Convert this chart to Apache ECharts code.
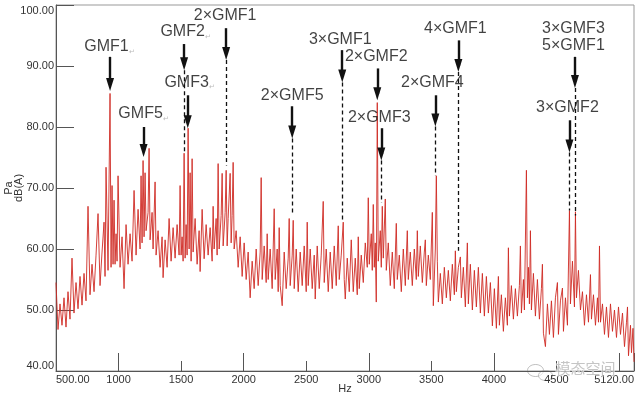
<!DOCTYPE html>
<html>
<head>
<meta charset="utf-8">
<script src="https://cdn.jsdelivr.net/npm/echarts@6/dist/echarts.min.js"></script>
<style>
  html, body { margin: 0; padding: 0; background: #fff; }
  #chart { width: 640px; height: 398px; }
</style>
</head>
<body>
<div id="chart"></div>
<script>
// 频谱 [Hz, dB(A)]
var spectrum = [
  [500,54.5],[516,46.8],[532,51.0],[548,47.5],[564,52.0],[580,47.2],[596,53.0],[612,48.5],[628,58.5],[644,49.5],
  [660,54.5],[676,50.2],[692,55.5],[708,50.8],[724,56.0],[740,51.5],[756,67.0],[772,52.5],[788,57.5],[804,53.0],
  [820,59.0],[836,65.8],[852,54.0],[868,59.5],[884,64.4],[892,55.5],[900,73.4],[916,56.5],[932,85.5],[940,57.0],
  [948,70.4],[956,57.5],[964,68.0],[972,57.5],[980,62.5],[988,58.0],[996,72.0],[1012,57.0],[1028,62.0],[1044,53.5],
  [1060,64.0],[1076,57.5],[1092,62.5],[1108,58.0],[1124,69.6],[1140,59.0],[1156,66.5],[1172,60.0],[1180,72.0],[1188,61.0],
  [1196,74.5],[1204,62.0],[1212,72.5],[1220,63.0],[1236,66.0],[1244,76.5],[1252,61.5],[1268,66.0],[1276,60.0],[1292,71.0],
  [1300,59.0],[1316,63.0],[1332,57.0],[1348,62.0],[1356,55.3],[1372,61.5],[1388,57.0],[1404,65.0],[1420,58.0],[1436,63.5],
  [1452,58.5],[1468,64.0],[1484,59.0],[1492,70.4],[1500,59.0],[1508,62.0],[1516,58.0],[1524,75.7],[1532,58.5],[1540,64.0],
  [1548,59.0],[1556,79.8],[1564,60.0],[1572,72.5],[1580,58.0],[1588,74.8],[1596,59.5],[1612,65.0],[1628,57.5],[1644,63.0],
  [1652,56.3],[1668,66.5],[1684,58.4],[1700,64.0],[1716,59.0],[1732,63.5],[1748,58.0],[1756,67.0],[1764,60.0],[1780,65.0],
  [1788,59.0],[1796,74.0],[1804,60.0],[1820,65.5],[1828,72.4],[1836,60.5],[1852,66.0],[1860,72.9],[1868,60.5],[1876,65.0],
  [1892,72.4],[1900,61.0],[1908,65.5],[1916,74.2],[1924,60.0],[1940,63.0],[1956,57.0],[1972,62.0],[1988,55.5],[2004,61.0],
  [2020,55.0],[2036,59.5],[2052,52.0],[2068,58.0],[2084,53.5],[2100,60.0],[2116,54.0],[2132,59.5],[2140,71.7],[2148,55.0],
  [2164,60.5],[2180,54.5],[2188,62.5],[2196,55.0],[2212,60.0],[2228,53.5],[2244,66.6],[2252,55.0],[2268,60.0],[2276,53.0],
  [2284,63.5],[2292,54.0],[2308,50.7],[2324,59.5],[2340,53.5],[2356,58.5],[2364,65.0],[2372,54.0],[2388,59.0],[2396,64.7],
  [2404,53.5],[2420,60.0],[2436,53.0],[2452,59.5],[2468,54.0],[2484,60.5],[2500,53.0],[2508,64.4],[2516,54.0],[2532,60.0],
  [2548,53.5],[2564,59.0],[2572,51.8],[2588,60.5],[2604,53.5],[2620,59.0],[2636,67.8],[2644,54.5],[2660,60.0],[2676,53.0],
  [2692,59.5],[2708,53.5],[2724,60.5],[2740,54.0],[2756,63.8],[2764,55.0],[2780,59.0],[2796,64.4],[2804,55.0],[2812,51.8],
  [2828,58.5],[2844,53.0],[2860,61.5],[2876,53.0],[2892,58.5],[2908,52.5],[2916,62.0],[2924,53.5],[2940,59.0],[2956,54.5],
  [2972,61.0],[2988,57.0],[2996,68.4],[3004,57.5],[3020,62.5],[3028,56.5],[3036,67.3],[3044,57.0],[3052,61.0],[3060,51.3],
  [3068,84.0],[3076,58.0],[3092,63.0],[3100,57.0],[3108,67.0],[3116,58.5],[3132,68.2],[3140,56.5],[3156,61.0],[3172,54.0],
  [3188,59.5],[3204,53.5],[3220,64.2],[3228,55.0],[3244,59.0],[3260,53.0],[3276,60.0],[3292,54.0],[3308,63.0],[3316,55.0],
  [3332,59.5],[3348,54.0],[3364,60.0],[3380,55.0],[3388,63.0],[3396,55.5],[3412,60.5],[3428,54.5],[3444,59.5],[3452,61.5],
  [3460,54.0],[3476,59.0],[3492,55.0],[3508,66.0],[3516,50.7],[3532,60.0],[3540,72.0],[3548,58.0],[3556,51.3],[3572,56.0],
  [3588,51.0],[3604,57.0],[3620,52.0],[3636,56.5],[3652,51.5],[3668,57.5],[3684,52.5],[3692,59.7],[3700,53.0],[3716,57.0],
  [3732,58.7],[3740,52.0],[3756,57.0],[3772,50.5],[3788,61.0],[3796,51.0],[3812,57.5],[3828,50.0],[3844,56.5],[3860,50.5],
  [3876,57.0],[3892,49.5],[3908,56.0],[3924,49.0],[3940,55.5],[3956,49.5],[3972,54.5],[3988,47.4],[4004,53.5],[4020,47.0],
  [4036,55.5],[4044,47.5],[4060,52.5],[4076,46.5],[4092,52.0],[4108,47.5],[4116,60.2],[4124,49.0],[4140,54.0],[4156,48.5],
  [4172,53.5],[4188,49.0],[4204,54.0],[4212,60.5],[4220,49.5],[4236,55.0],[4244,50.0],[4260,72.9],[4268,52.0],[4276,57.0],
  [4284,51.0],[4292,63.0],[4300,50.0],[4316,56.0],[4332,49.0],[4348,55.0],[4364,48.5],[4380,53.5],[4388,57.5],[4396,46.2],
  [4412,44.0],[4428,51.0],[4444,46.0],[4460,51.5],[4476,45.5],[4492,52.0],[4508,54.5],[4516,46.0],[4532,51.5],[4548,53.6],
  [4556,46.5],[4572,52.0],[4588,47.5],[4604,66.3],[4612,51.0],[4628,58.0],[4644,50.5],[4652,66.1],[4660,52.0],[4676,56.5],
  [4692,50.0],[4708,53.0],[4724,47.5],[4740,52.5],[4756,48.0],[4772,55.8],[4780,48.5],[4796,52.5],[4812,47.5],[4828,52.0],
  [4836,48.0],[4844,60.5],[4852,48.0],[4868,51.0],[4884,46.0],[4900,50.5],[4916,45.5],[4932,51.0],[4948,46.5],[4964,50.0],
  [4980,45.5],[4996,50.5],[5012,46.0],[5028,49.5],[5044,44.0],[5060,48.0],[5068,50.5],[5076,42.5],[5092,47.5],[5100,43.0],
  [5112,47.0],[5120,41.5]
];

// 坐标轴刻度文字
var xTickHz = [500, 1000, 1500, 2000, 2500, 3000, 3500, 4000, 4500, 5000, 5120];
var xTickText = ['500.00', '1000', '1500', '2000', '2500', '3000', '3500', '4000', '4500', '', '5120.00'];

// 标注: 文字, 文字位置, 箭头, 虚线
var annoText = ['GMF1↵', 'GMF5↵', 'GMF2↵', 'GMF3↵', '2×GMF1', '2×GMF5', '3×GMF1', '2×GMF2', '2×GMF3', '2×GMF4', '4×GMF1', '3×GMF3\n5×GMF1', '3×GMF2'];
var annoLabelHz = [928, 1200, 1536, 1568, 1852, 2388, 2772, 3060, 3084, 3508, 3692, 4636, 4588];
var annoLabelDb = [93.1, 82.2, 95.6, 87.3, 98.2, 85.2, 94.4, 91.5, 81.6, 87.3, 96.2, 94.8, 83.1];
var arrowHz = [932, 1200, 1524, 1553, 1860, 2388, 2788, 3068, 3100, 3532, 3716, 4648, 4604];
var arrowTopDb = [91.5, 80.0, 93.6, 85.2, 96.2, 83.4, 92.6, 89.6, 79.8, 85.2, 94.2, 91.5, 81.1];
var arrowTipDb = [85.9, 75.1, 89.3, 79.8, 91.0, 78.1, 87.3, 84.4, 74.5, 80.1, 89.0, 86.4, 75.8];
var dashEndDb = [null, null, 75.7, null, 73.7, 66.0, 64.7, null, 67.6, 72.0, 59.7, 65.5, 66.3];

var chart = echarts.init(document.getElementById('chart'), null, {renderer: 'canvas'});

var font = '"Liberation Sans", Arial, sans-serif';
var headLen = 13; // 箭头长度 px
var pxPerDb = 366 / 60;

var labelData = annoText.map(function (t, i) {
  return [annoLabelHz[i], annoLabelDb[i], t];
});

var arrowLines = arrowHz.map(function (hz, i) {
  // 箭头符号以端点为中心, 向上挪半个箭头
  var tip = arrowTipDb[i] + headLen / 2 / pxPerDb;
  return [
    {coord: [hz, arrowTopDb[i]], symbol: 'none'},
    {coord: [hz, tip], symbol: 'path://M5,0L10,14L0,14Z', symbolSize: [8, headLen]}
  ];
});

var dashLines = [];
for (var i = 0; i < arrowHz.length; i++) {
  if (dashEndDb[i] !== null) {
    dashLines.push([
      {coord: [arrowHz[i], arrowTipDb[i]]},
      {coord: [arrowHz[i], dashEndDb[i]]}
    ]);
  }
}

chart.setOption({
  animation: false,
  backgroundColor: '#fff',
  grid: [
    {left: 56, right: 6, top: 5, bottom: 27, show: true, borderColor: '#999', borderWidth: 1,
     containLabel: false, outerBoundsMode: 'none'},
    // 只用来画 1000 Hz 整数处的长刻度
    {left: -6.55, right: 6, top: 5, bottom: 27, containLabel: false, outerBoundsMode: 'none'}
  ],
  xAxis: [
    {
      type: 'value', gridIndex: 0, min: 500, max: 5120, interval: 500,
      name: 'Hz', nameLocation: 'middle', nameGap: 12, nameMoveOverlap: false,
      nameTextStyle: {color: '#333', fontSize: 11, fontFamily: font, verticalAlign: 'top'},
      axisLine: {lineStyle: {color: '#555', width: 1}},
      axisTick: {inside: true, length: 10, lineStyle: {color: '#555'}},
      splitLine: {show: false},
      axisLabel: {
        color: '#333', fontSize: 11, fontFamily: font, margin: 3,
        showMinLabel: true, showMaxLabel: true,
        alignMinLabel: 'left', alignMaxLabel: 'right',
        formatter: function (v) {
          var k = xTickHz.indexOf(v);
          return k >= 0 ? xTickText[k] : '';
        }
      }
    },
    {
      type: 'value', gridIndex: 1, min: 0, max: 5120, interval: 1000,
      axisLine: {show: false},
      axisTick: {inside: true, length: 18, lineStyle: {color: '#555'}},
      axisLabel: {show: false},
      splitLine: {show: false}
    }
  ],
  yAxis: [
    {
      type: 'value', gridIndex: 0, min: 40, max: 100, interval: 10,
      name: 'Pa\ndB(A)', nameLocation: 'middle', nameRotate: 90, nameGap: 42, nameMoveOverlap: false,
      nameTextStyle: {color: '#333', fontSize: 11, fontFamily: font, lineHeight: 10, align: 'center', verticalAlign: 'middle'},
      axisLine: {show: true, lineStyle: {color: '#555', width: 1}},
      axisTick: {show: true, inside: true, length: 18, lineStyle: {color: '#555'}},
      splitLine: {show: false},
      axisLabel: {
        color: '#333', fontSize: 11, fontFamily: font, margin: 2,
        verticalAlignMinLabel: 'bottom', verticalAlignMaxLabel: 'top',
        formatter: function (v) { return v.toFixed(2); }
      }
    },
    {type: 'value', gridIndex: 1, min: 40, max: 100, show: false}
  ],
  series: [
    {
      type: 'line', xAxisIndex: 1, yAxisIndex: 1, data: [], silent: true
    },
    {
      name: 'spectrum', type: 'line', data: spectrum,
      showSymbol: false, symbol: 'none', sampling: null,
      lineStyle: {color: '#cf2a24', width: 0.9},
      z: 2
    },
    {
      name: 'dash', type: 'line', data: [], z: 4,
      markLine: {
        silent: true, symbol: ['none', 'none'],
        label: {show: false},
        lineStyle: {color: '#111', width: 1.3, type: [4, 3]},
        data: dashLines
      }
    },
    {
      name: 'arrow', type: 'line', data: [], z: 5,
      markLine: {
        silent: true,
        label: {show: false},
        lineStyle: {color: '#111', width: 2.4, type: 'solid'},
        itemStyle: {color: '#111'},
        data: arrowLines
      }
    },
    {
      name: 'labels', type: 'scatter', data: labelData, symbolSize: 0, z: 6,
      label: {
        show: true, position: 'inside',
        formatter: function (p) {
          return p.data[2].split('\n').map(function (s) {
            return s.indexOf('↵') >= 0 ? '{t|' + s.replace('↵', '') + '}{m|↵}' : '{t|' + s + '}';
          }).join('\n');
        },
        rich: {
          t: {fontSize: 16, color: '#111', fontFamily: font, lineHeight: 17},
          m: {fontSize: 7, color: '#aaa', fontFamily: font, lineHeight: 17, verticalAlign: 'bottom'}
        }
      }
    }
  ],
  graphic: [
    {
      type: 'text', left: 555, top: 360, z: 10, silent: true,
      style: {
        text: '模态空间', font: '15px "Noto Sans CJK SC"',
        fill: 'rgba(150,150,150,0.55)', stroke: 'rgba(255,255,255,0.8)', lineWidth: 1
      }
    },
    {
      type: 'group', left: 525, top: 362, z: 10, silent: true,
      children: [
        {type: 'ellipse', shape: {cx: 9, cy: 7, rx: 8, ry: 6}, style: {fill: 'none', stroke: 'rgba(150,150,150,0.6)', lineWidth: 1}},
        {type: 'ellipse', shape: {cx: 19, cy: 12, rx: 7, ry: 5}, style: {fill: 'rgba(255,255,255,0.6)', stroke: 'rgba(150,150,150,0.6)', lineWidth: 1}}
      ]
    }
  ]
});
</script>
</body>
</html>
